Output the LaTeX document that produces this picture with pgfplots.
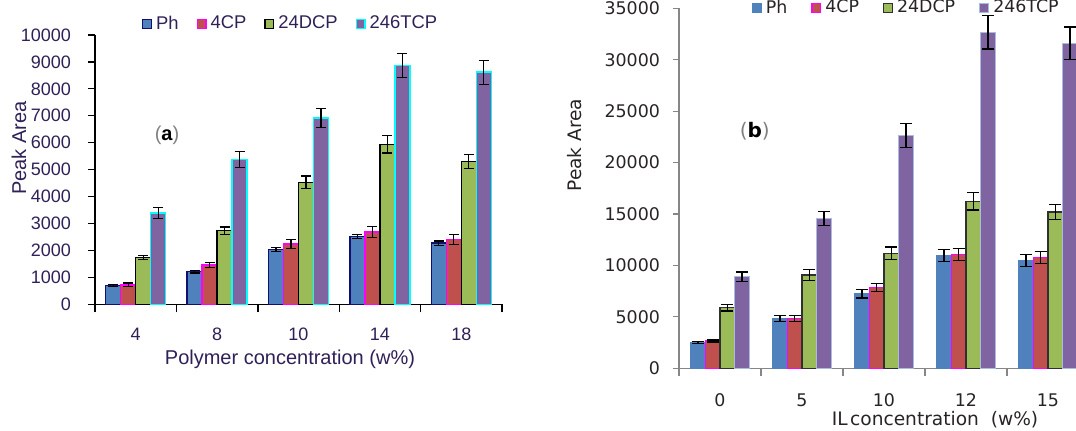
\documentclass[border=0pt]{standalone}
\usepackage{pgfplots}
\usepackage{pgfplotstable}
\pgfplotsset{compat=1.18}
\usepackage{fontspec}
\setmainfont{Liberation Sans}
\newfontfamily\verd{DejaVu Sans}
\definecolor{cPh}{HTML}{4F81BD}
\definecolor{cCP}{HTML}{C0504D}
\definecolor{cDCP}{HTML}{9BBB59}
\definecolor{cTCP}{HTML}{8064A2}
\definecolor{ePh}{HTML}{101070}
\definecolor{eCP}{HTML}{FF00FF}
\definecolor{eTCP}{HTML}{00FFFF}
\definecolor{eTCPr}{HTML}{A8BCDC}
\definecolor{eDCPr}{HTML}{303030}
\definecolor{ltxt}{RGB}{48,32,88}
\definecolor{rtxt}{RGB}{40,36,36}
\definecolor{raxis}{HTML}{868686}

\pgfplotstableread{
x Ph ePh CP eCP DCP eDCP TCP eTCP
0 690 35 720 70 1745 80 3390 200
1 1210 50 1460 90 2730 140 5380 300
2 2040 80 2240 170 4530 235 6920 360
3 2520 75 2690 200 5940 320 8870 446
4 2270 80 2400 180 5300 265 8620 446
}\lefttab

\pgfplotstableread{
x Ph ePh CP eCP DCP eDCP TCP eTCP
0 2490 100 2650 100 5890 320 8900 470
1 4860 275 4850 275 9070 530 14580 680
2 7250 405 7840 405 11180 615 22610 1170
3 10950 580 11080 580 16240 840 32670 1620
4 10500 565 10790 580 15200 750 31600 1590
}\righttab

\pgfplotsset{
  sq legend/.style={legend image code/.code={\draw[##1,line width=0.6pt] (0pt,-2.2pt) rectangle (4.4pt,2.2pt);}},
}

\begin{document}
\begin{tikzpicture}
% ---------------- left panel (a)
\begin{axis}[
  at={(47.5pt,62.85pt)}, anchor=south west,
  scale only axis, width=203.5pt, height=134.65pt,
  xmin=-0.5, xmax=4.5, ymin=0, ymax=10000,
  enlargelimits=false,
  axis lines*=left,
  axis line style={black, line width=0.7pt},
  ybar=0pt, bar width=7.5pt,
  xtick={0,...,4}, xticklabels={4,8,10,14,18},
  major x tick style={draw=none},
  minor xtick={-0.5,0.5,...,4.5},
  minor x tick style={black, line width=0.7pt},
  minor tick length=4pt,
  major tick length=3.5pt,
  tick align=outside,
  ytick={0,1000,...,10000},
  ytick style={black, line width=0.6pt},
  scaled y ticks=false,
  /pgf/number format/.cd, 1000 sep={}, assume math mode=true, /pgfplots/.cd,
  ticklabel style={font=\fontsize{9}{10}\selectfont, text=ltxt},
  xticklabel style={yshift=-5pt},
  yticklabel style={xshift=-5pt},
  xlabel={Polymer concentration (w\%)},
  xlabel style={at={(axis description cs:0.479,-0.203)}, anchor=center, font=\fontsize{10}{12}\selectfont, text=ltxt},
  ylabel={Peak Area},
  ylabel style={at={(axis description cs:-0.1867,0.580)}, anchor=center, font=\fontsize{10}{12}\selectfont, text=ltxt},
  legend style={at={(0.483,1.041)}, anchor=center, draw=none, fill=none,
    legend columns=4, font=\fontsize{9.2}{10}\selectfont, text=ltxt,
    /tikz/every even column/.append style={column sep=7pt}, inner sep=0pt},
  error bars/error bar style={black, line width=0.6pt},
  error bars/error mark options={rotate=90, black, line width=0.6pt, mark size=2.5pt},
]
\addplot[fill=cPh, draw=ePh, line width=0.7pt, sq legend,
  error bars/.cd, y dir=both, y explicit] table[x=x, y=Ph, y error=ePh]{\lefttab};
\addplot[fill=cCP, draw=eCP, line width=0.7pt, sq legend,
  error bars/.cd, y dir=both, y explicit] table[x=x, y=CP, y error=eCP]{\lefttab};
\addplot[fill=cDCP, draw=black, line width=0.7pt, sq legend,
  error bars/.cd, y dir=both, y explicit] table[x=x, y=DCP, y error=eDCP]{\lefttab};
\addplot[fill=cTCP, draw=eTCP, line width=0.7pt, sq legend,
  error bars/.cd, y dir=both, y explicit] table[x=x, y=TCP, y error=eTCP]{\lefttab};
\legend{Ph,4CP,24DCP,246TCP}
\node[font=\fontsize{10}{12}\selectfont] at (axis description cs:0.177,0.629)
  {\textcolor{gray}{(}\textbf{a}\textcolor{gray}{)}};
\end{axis}

% ---------------- right panel (b)
\begin{axis}[
  at={(339.5pt,30.85pt)}, anchor=south west,
  scale only axis, width=198.5pt, height=180pt,
  xmin=-0.5, xmax=4.3415, ymin=0, ymax=35000,
  enlargelimits=false, clip=true,
  axis lines*=left,
  axis line style={raxis, line width=0.6pt},
  ybar=0pt, bar width=7.35pt,
  xtick={0,...,4}, xticklabels={0,5,10,12,15},
  major x tick style={draw=none},
  minor xtick={-0.5,0.5,...,3.5},
  minor x tick style={raxis, line width=0.6pt},
  minor tick length=4pt,
  major tick length=3pt,
  tick align=outside,
  ytick={0,5000,...,35000},
  ytick style={raxis, line width=0.6pt},
  scaled y ticks=false,
  /pgf/number format/.cd, 1000 sep={}, assume math mode=true, /pgfplots/.cd,
  ticklabel style={font=\verd\fontsize{8.7}{10}\selectfont, text=rtxt},
  xticklabel style={yshift=-6pt},
  yticklabel style={xshift=-3pt},
  xlabel={IL\kern1.2pt concentration\ \ (w\%)},
  xlabel style={at={(axis description cs:0.645,-0.1436)}, anchor=center, font=\verd\fontsize{9.3}{11}\selectfont, text=rtxt},
  ylabel={Peak Area},
  ylabel style={at={(axis description cs:-0.262,0.620)}, anchor=center, font=\verd\fontsize{9.3}{11}\selectfont, text=rtxt},
  legend style={at={(0.575,1.0008)}, anchor=center, draw=none, fill=none,
    legend columns=4, font=\verd\fontsize{8.7}{10}\selectfont, text=rtxt,
    /tikz/every even column/.append style={column sep=10pt}, inner sep=0pt},
  error bars/error bar style={black, line width=0.6pt},
  error bars/error mark options={rotate=90, black, line width=0.6pt, mark size=3pt},
]
\addplot[fill=cPh, draw=cPh, line width=0.6pt, sq legend,
  error bars/.cd, y dir=both, y explicit] table[x=x, y=Ph, y error=ePh]{\righttab};
\addplot[fill=cCP, draw=eCP, line width=0.6pt, sq legend,
  error bars/.cd, y dir=both, y explicit] table[x=x, y=CP, y error=eCP]{\righttab};
\addplot[fill=cDCP, draw=eDCPr, line width=0.6pt, sq legend,
  error bars/.cd, y dir=both, y explicit] table[x=x, y=DCP, y error=eDCP]{\righttab};
\addplot[fill=cTCP, draw=eTCPr, line width=0.6pt, sq legend,
  error bars/.cd, y dir=both, y explicit] table[x=x, y=TCP, y error=eTCP]{\righttab};
\legend{Ph,4CP,24DCP,246TCP}
\node[font=\verd\fontsize{10}{12}\selectfont] at (axis description cs:0.191,0.659)
  {\textcolor{gray}{(}\textbf{b}\textcolor{gray}{)}};
\end{axis}

\pgfresetboundingbox
\path[use as bounding box] (0pt,0pt) rectangle (538pt,215pt);
\end{tikzpicture}
\end{document}
